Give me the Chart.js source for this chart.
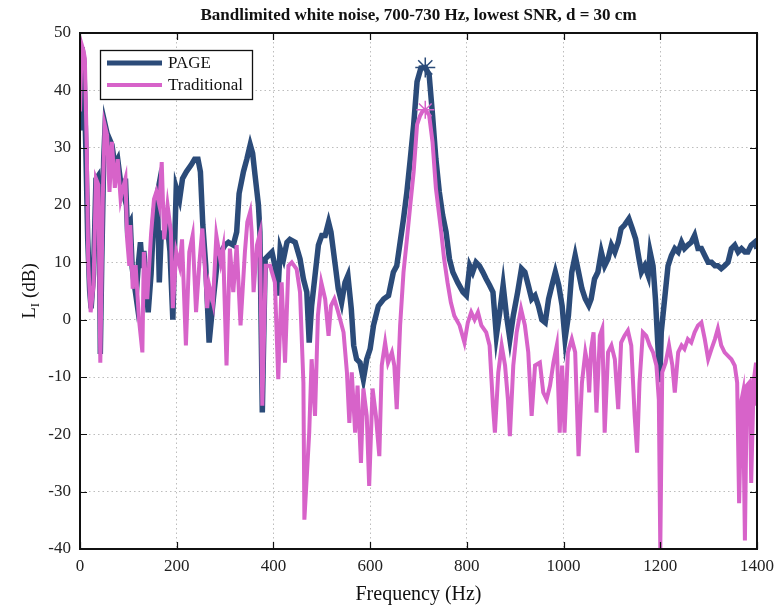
<!DOCTYPE html>
<html>
<head>
  <title>Bandlimited white noise</title>
  <script src="https://cdn.jsdelivr.net/npm/chart.js"></script>
  <style>
    body {
      margin: 0;
      background: white;
    }
    canvas {
      display: block;
    }
  </style>
</head>
<body>
  <canvas id="chart" width="776" height="606"></canvas>

  <script>
    // values (Hz, dB)
    const freqPage = [0, 4, 8, 12, 16, 20, 23, 28, 33, 37, 40, 42, 45, 49, 52, 56, 61, 66, 72, 78, 84, 90, 94, 98, 104, 108, 111, 116, 121, 125, 129, 132, 137, 141, 147, 153, 160, 164, 168, 174, 180, 186, 192, 196, 199, 206, 212, 220, 230, 237, 244, 249, 254, 260, 267, 275, 283, 293, 300, 307, 317, 324, 329, 338, 345, 352, 357, 362, 369, 372, 377, 383, 390, 397, 403, 409, 414, 421, 428, 434, 445, 455, 462, 469, 474, 479, 486, 493, 500, 507, 514, 519, 528, 534, 541, 548, 554, 561, 566, 572, 579, 586, 593, 600, 607, 617, 628, 638, 648, 655, 662, 669, 676, 683, 690, 697, 705, 714, 722, 729, 736, 743, 750, 757, 764, 771, 781, 792, 799, 806, 812, 819, 826, 833, 840, 847, 854, 861, 868, 875, 882, 889, 896, 905, 913, 920, 927, 934, 941, 948, 955, 962, 969, 976, 983, 990, 997, 1003, 1010, 1017, 1024, 1031, 1038, 1045, 1052, 1057, 1064, 1071, 1078, 1085, 1092, 1099, 1106, 1113, 1119, 1126, 1135, 1142, 1149, 1156, 1161, 1168, 1175, 1179, 1185, 1190, 1195, 1199, 1202, 1209, 1216, 1223, 1230, 1237, 1244, 1250, 1257, 1264, 1271, 1278, 1285, 1292, 1299, 1306, 1313, 1319, 1326, 1333, 1340, 1347, 1354, 1361, 1368, 1375, 1381, 1388, 1395, 1400];
    const levelPage = [33, 47.5, 45, 30, 14, 5, 2, 8, 24.5, 25, 20, -6, 10, 28, 34, 32.5, 31.5, 30.5, 27, 28, 24, 22, 24.6, 16, 17, 9, 7, 4, 10, 13.5, 9, 12, 6, 1.3, 8, 18.8, 22, 6.5, 15, 15.3, 17, 12, 0, 14, 23, 21, 24.6, 25.8, 27, 28, 28, 25.8, 16.5, 9.4, -4, 3, 9.4, 12, 13, 13.5, 13, 15.3, 22, 25.8, 28, 30.5, 29, 25.2, 20, 15.3, -16.2, 10.6, 11.2, 11.8, 9.4, 4.2, 12.4, 10.6, 13.5, 14, 13.5, 10.6, 7.1, 4.8, -4, 2.4, 7.7, 13, 14.7, 14.7, 17, 15.3, 9.4, 5.4, 3, 6.5, 7.7, 1.9, -4.5, -6.9, -7.5, -10.4, -6.9, -5.1, -1, 2.4, 3.6, 4.2, 8.3, 9.4, 13.5, 17.6, 22.3, 28, 34, 41.5, 43.9, 44, 42.7, 35.7, 28, 22.3, 18.2, 15.3, 10.6, 8.3, 6.5, 4.8, 4.2, 9.4, 8.3, 10, 9.4, 8.3, 7.1, 6, 4.8, -2.8, 1.3, 6, 0.7, -3.4, 0.7, 4.8, 8.9, 8.3, 6, 3.6, 4.2, 2.4, 0, -0.5, 3.6, 6, 8.3, 6, 2.4, -3.4, 0.7, 8.3, 11.2, 8.3, 5.4, 3.6, 2.5, 3.6, 7.1, 8.3, 11.8, 9.4, 10.6, 13, 11.8, 13.5, 15.9, 16.5, 17.6, 15.9, 14.1, 10.6, 8.3, 9.4, 7.7, 11.8, 9.4, 3.6, -4.5, -10.9, -2.2, 3.6, 9.4, 11.2, 12.4, 11.8, 13.5, 12.4, 13, 13.5, 14.7, 12.4, 12.4, 11.2, 10, 10, 9.4, 9.4, 8.9, 9.4, 10, 12.4, 13, 11.8, 12.4, 11.8, 11.8, 13, 13.5, 12.4];

    const freqTrad = [0, 3.5, 7, 10, 14, 17, 22, 28, 33, 38, 42, 47, 51, 56, 61, 66, 72, 78, 84, 89, 94, 97.5, 102, 104, 109, 115, 122, 129, 132, 139, 147, 153, 158, 164, 169, 174, 181, 188, 192, 199, 206, 211, 219, 226, 233, 240, 247, 253, 258, 263, 267, 275, 282, 291, 296, 303, 310, 317, 324, 332, 341, 346, 352, 355, 359, 366, 372, 377, 384, 393, 403, 410, 417, 424, 431, 438, 448, 455, 462, 464, 469, 474, 479, 486, 492, 499, 507, 514, 519, 526, 534, 545, 552, 557, 562, 569, 574, 581, 586, 593, 598, 605, 612, 619, 624, 631, 637, 645, 650, 655, 662, 669, 676, 683, 690, 697, 703, 708, 714, 722, 729, 736, 747, 753, 760, 767, 774, 785, 795, 802, 809, 816, 823, 830, 840, 847, 854, 858, 865, 872, 879, 885, 889, 896, 903, 912, 920, 927, 934, 941, 951, 958, 965, 972, 979, 986, 992, 997, 1002, 1009, 1017, 1024, 1031, 1038, 1045, 1050, 1053, 1057, 1062, 1068, 1075, 1080, 1085, 1092, 1099, 1106, 1113, 1119, 1126, 1133, 1140, 1147, 1152, 1157, 1164, 1171, 1178, 1185, 1192, 1197, 1200, 1204, 1211, 1218, 1225, 1230, 1237, 1244, 1250, 1257, 1264, 1271, 1278, 1285, 1292, 1299, 1306, 1313, 1319, 1326, 1333, 1340, 1347, 1354, 1359, 1363, 1368, 1371, 1375, 1379, 1385, 1388, 1393, 1398, 1400];
    const levelTrad = [36.3, 48, 47, 45.6, 30, 10, 1.3, 6, 24.6, 23.5, -7.5, 21, 34, 32.2, 22.3, 31, 23, 28, 21, 23, 24.6, 14, 9.4, 16.5, 5.4, 9.5, 0, -5.7, 11.8, 3.6, 15, 21, 22.3, 20, 27.5, 14, 20, 15.3, 2, 11.8, 9.4, 14, -4.5, 11.8, 14.7, 1.3, 10, 15.9, 9.4, 2, 6, 3, 14.7, 10, 12.4, -8, 12.4, 4.8, 13, -1, 11.8, 17, 18.8, 15.3, 4.8, 13, 15, -15, 9.4, 9.4, 6.5, -10.4, 6.5, -7.5, 9.4, 10, 8.8, 4.8, -11, -34.9, -27.3, -19.7, -6.9, -16.8, 0.7, 6.5, 3.6, -2.8, 2.4, 3.6, 1.3, -2.2, -9.2, -18, -9.2, -19.7, -11.5, -25, -12, -16.8, -29, -12, -16.8, -23.8, -8, -4, -7.5, -5.7, -8, -15.6, -1, 8.3, 14, 20, 25.8, 34, 35.5, 36.3, 36.6, 35.7, 31, 22.9, 15.3, 10.6, 6.5, 3, 0.7, -1, -4, -0.5, 1.3, 0, 1.3, -1, -2.2, -4.5, -15, -19.7, -9.2, -4.5, -8, -14, -20.3, -8, -2.2, 1.9, -1, -5.7, -16.8, -8, -7.5, -12.7, -13.9, -11.5, -7.5, -4.5, -19.7, -8, -19.7, -5.7, -3.4, -5.7, -23.8, -11, -5.7, -8, -12.7, -5.1, -2.2, -16.2, -2.8, -1.6, -19.7, -5.7, -4.5, -6.9, -15.6, -4, -2.8, -1.9, -4.5, -16.8, -23.2, -11, -2.2, -2.8, -4.5, -5.7, -8, -14, -40, -9.2, -7.5, -4.5, -8, -12.7, -5.7, -4.5, -5.1, -3.4, -4, -2.2, -1, -0.5, -3.4, -6.9, -5.1, -3.4, -1.6, -4.5, -5.7, -6.3, -6.9, -8, -11, -32, -14, -12.7, -38.5, -11.5, -10.9, -28.5, -10.9, -7.5, -15];

    const xTicks = [0, 200, 400, 600, 800, 1000, 1200, 1400];
    const yTicks = [-40, -30, -20, -10, 0, 10, 20, 30, 40, 50];

    const titleText = "Bandlimited white noise, 700-730 Hz, lowest SNR, d = 30 cm";
    const seriesNames = ["PAGE", "Traditional"];

    const pageColor = "#2b4b79";
    const tradColor = "#d763c9";
    const serif = "'Liberation Serif', 'Times New Roman', serif";

    function toPoints(xs, ys) {
      return xs.map((x, i) => ({ x: x, y: ys[i] }));
    }

    // the tone peak (away from the DC spike) gets a star marker
    function peakOf(xs, ys) {
      let best = -1;
      for (let i = 0; i < ys.length; i++) {
        if (xs[i] < 600) continue;
        if (best < 0 || ys[i] > ys[best]) best = i;
      }
      return [{ x: xs[best], y: ys[best] }];
    }

    // draws title, axis labels, box, inward ticks and the legend
    const matlabAxes = {
      id: "matlabAxes",
      afterDatasetsDraw(chart) {
        const ctx = chart.ctx;
        const a = chart.chartArea;
        const xs = chart.scales.x;
        const ys = chart.scales.y;
        ctx.save();

        ctx.strokeStyle = "#111";
        ctx.lineWidth = 1.2;
        const tl = 7;
        ctx.beginPath();
        xTicks.forEach(v => {
          const px = Math.round(xs.getPixelForValue(v)) + 0.5;
          ctx.moveTo(px, a.bottom); ctx.lineTo(px, a.bottom - tl);
          ctx.moveTo(px, a.top); ctx.lineTo(px, a.top + tl);
        });
        yTicks.forEach(v => {
          const py = Math.round(ys.getPixelForValue(v)) + 0.5;
          ctx.moveTo(a.left, py); ctx.lineTo(a.left + tl, py);
          ctx.moveTo(a.right, py); ctx.lineTo(a.right - tl, py);
        });
        ctx.stroke();

        ctx.lineWidth = 2;
        ctx.strokeRect(a.left, a.top, a.right - a.left, a.bottom - a.top);

        // legend
        const lx = 100, ly = 50, lw = 152, lh = 49;
        ctx.fillStyle = "white";
        ctx.fillRect(lx, ly, lw, lh);
        ctx.lineWidth = 1.3;
        ctx.strokeStyle = "#111";
        ctx.strokeRect(lx + 0.5, ly + 0.5, lw, lh);
        const rows = [[seriesNames[0], pageColor, 5, 63], [seriesNames[1], tradColor, 4, 85]];
        ctx.font = "17px " + serif;
        ctx.textBaseline = "middle";
        ctx.textAlign = "left";
        rows.forEach(r => {
          ctx.strokeStyle = r[1];
          ctx.lineWidth = r[2];
          ctx.beginPath();
          ctx.moveTo(107, r[3]); ctx.lineTo(162, r[3]);
          ctx.stroke();
          ctx.fillStyle = "#111";
          ctx.fillText(r[0], 168, r[3] + 1);
        });

        // title
        const cx = (a.left + a.right) / 2;
        ctx.fillStyle = "#111";
        ctx.textAlign = "center";
        ctx.font = "bold 17px " + serif;
        ctx.fillText(titleText, cx, 16);

        // x label
        ctx.font = "20px " + serif;
        ctx.fillText("Frequency (Hz)", cx, 595);

        // y label with subscript
        ctx.translate(30, (a.top + a.bottom) / 2);
        ctx.rotate(-Math.PI / 2);
        ctx.textAlign = "left";
        const big = "19px " + serif;
        const small = "13px " + serif;
        ctx.font = big;
        const wL = ctx.measureText("L").width;
        const wRest = ctx.measureText(" (dB)").width;
        ctx.font = small;
        const wI = ctx.measureText("I").width;
        let x0 = -(wL + wI + wRest) / 2;
        ctx.font = big;
        ctx.fillText("L", x0, 0);
        ctx.font = small;
        ctx.fillText("I", x0 + wL, 6);
        ctx.font = big;
        ctx.fillText(" (dB)", x0 + wL + wI, 0);

        ctx.restore();
      }
    };

    new Chart(document.getElementById("chart").getContext("2d"), {
      type: "line",
      data: {
        datasets: [
          {
            label: "Traditional peak",
            data: peakOf(freqTrad, levelTrad),
            showLine: false,
            pointStyle: "star",
            pointRadius: 9,
            borderColor: tradColor,
            borderWidth: 1.5
          },
          {
            label: "PAGE peak",
            data: peakOf(freqPage, levelPage),
            showLine: false,
            pointStyle: "star",
            pointRadius: 10,
            borderColor: pageColor,
            borderWidth: 1.5
          },
          {
            label: seriesNames[1],
            data: toPoints(freqTrad, levelTrad),
            borderColor: tradColor,
            borderWidth: 4,
            pointRadius: 0,
            tension: 0,
            fill: false
          },
          {
            label: seriesNames[0],
            data: toPoints(freqPage, levelPage),
            borderColor: pageColor,
            borderWidth: 5.5,
            pointRadius: 0,
            tension: 0,
            fill: false
          }
        ]
      },
      options: {
        animation: false,
        responsive: false,
        devicePixelRatio: 1,
        layout: { padding: { top: 33, right: 19, left: 0, bottom: 0 } },
        plugins: {
          legend: { display: false },
          tooltip: { enabled: false }
        },
        scales: {
          x: {
            type: "linear",
            min: 0,
            max: 1400,
            afterBuildTicks: s => { s.ticks = xTicks.map(v => ({ value: v })); },
            afterFit: s => { s.height = 57; s.paddingLeft = 0; s.paddingRight = 0; },
            ticks: { font: { family: serif, size: 17 }, color: "#222", padding: 7, maxRotation: 0, callback: v => String(v) },
            grid: { color: "#bdbdbd", lineWidth: 1, drawTicks: false },
            border: { display: false, dash: [1.5, 3] }
          },
          y: {
            min: -40,
            max: 50,
            afterBuildTicks: s => { s.ticks = yTicks.map(v => ({ value: v })); },
            afterFit: s => { s.width = 80; s.paddingTop = 0; s.paddingBottom = 0; },
            ticks: { font: { family: serif, size: 17 }, color: "#222", padding: 9, callback: v => String(v) },
            grid: { color: "#bdbdbd", lineWidth: 1, drawTicks: false },
            border: { display: false, dash: [1.5, 3] }
          }
        }
      },
      plugins: [matlabAxes]
    });
  </script>
</body>
</html>
